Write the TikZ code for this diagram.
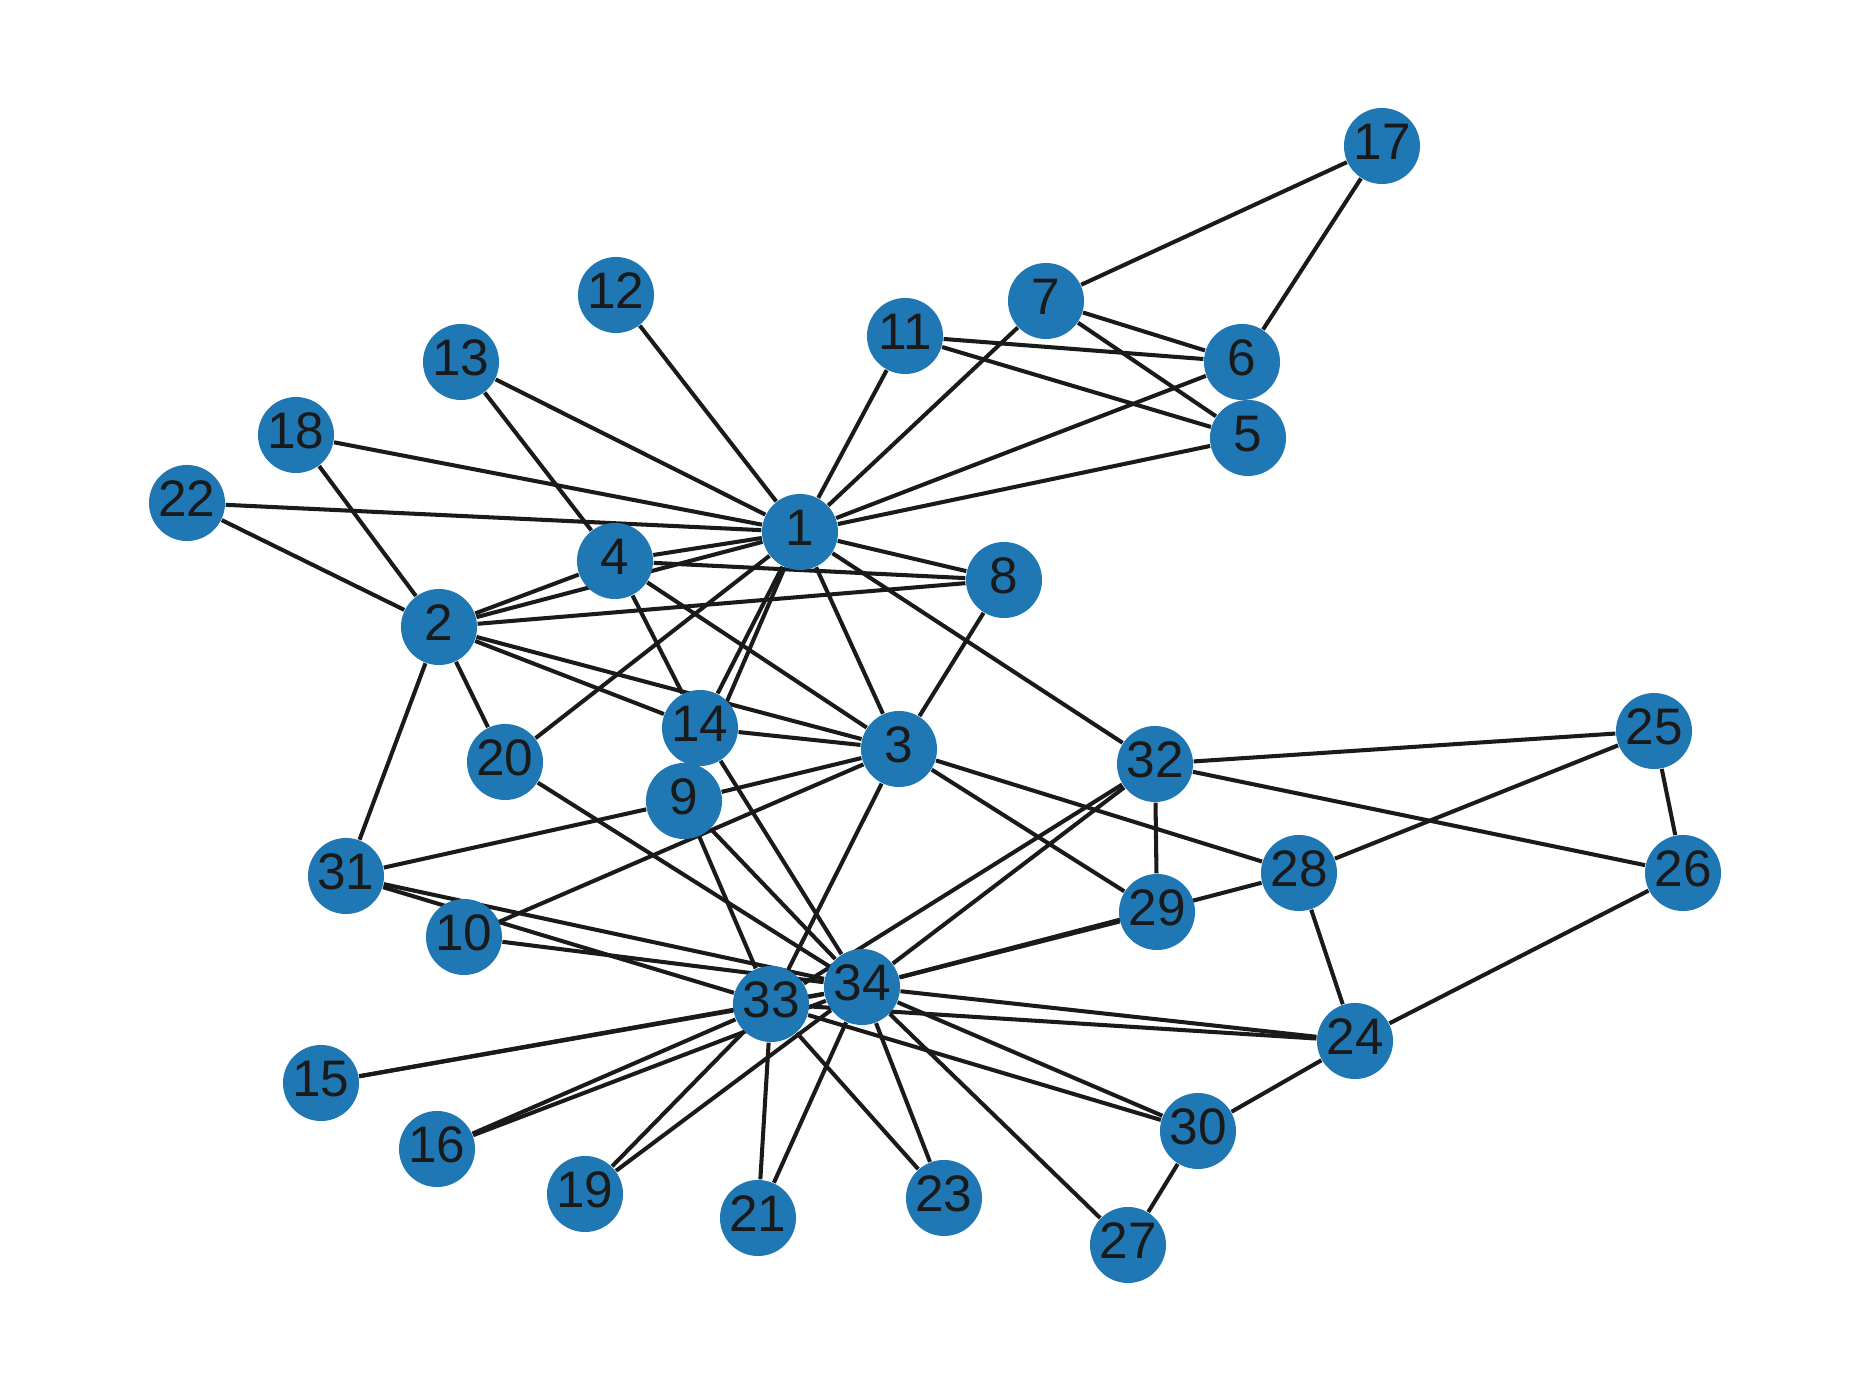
\documentclass[tikz,border=0pt]{standalone}
\usepackage{fontspec}
\setmainfont{Liberation Sans}
\usetikzlibrary{backgrounds}
\definecolor{nxblue}{HTML}{1F77B4}
\definecolor{inkgray}{HTML}{1A1A1A}

\begin{document}
\begin{tikzpicture}[
    x=0.01cm, y=-0.01cm,
    % --- club members ---
    member/.style={
        circle, fill=nxblue, inner sep=0pt, minimum size=0.76cm,
        text=inkgray, font=\fontsize{14.6}{14.6}\selectfont,
        text height=10.45pt, text depth=2.7pt},
    % --- friendships ---
    bond/.style={draw=inkgray, line width=1.15pt},
]
\useasboundingbox (0,0) rectangle (1872,1392);

% ===== MEMBERS =====
\node[member] (m1)  at (800,532)   {1};
\node[member] (m2)  at (439,627)   {2};
\node[member] (m3)  at (899,749)   {3};
\node[member] (m4)  at (615,561)   {4};
\node[member] (m5)  at (1248,438)  {5};
\node[member] (m6)  at (1242,362)  {6};
\node[member] (m7)  at (1046,301)  {7};
\node[member] (m8)  at (1004,580)  {8};
\node[member] (m9)  at (684,801)   {9};
\node[member] (m10) at (464,937)   {10};
\node[member] (m11) at (905,336)   {11};
\node[member] (m12) at (616,295)   {12};
\node[member] (m13) at (461,362)   {13};
\node[member] (m14) at (700,728)   {14};
\node[member] (m15) at (321,1083)  {15};
\node[member] (m16) at (437,1149)  {16};
\node[member] (m17) at (1382,146)  {17};
\node[member] (m18) at (296,435)   {18};
\node[member] (m19) at (585,1194)  {19};
\node[member] (m20) at (505,762)   {20};
\node[member] (m21) at (758,1218)  {21};
\node[member] (m22) at (187,503)   {22};
\node[member] (m23) at (944,1198)  {23};
\node[member] (m24) at (1355,1041) {24};
\node[member] (m25) at (1654,731)  {25};
\node[member] (m26) at (1683,873)  {26};
\node[member] (m27) at (1128,1245) {27};
\node[member] (m28) at (1299,873)  {28};
\node[member] (m29) at (1157,912)  {29};
\node[member] (m30) at (1198,1131) {30};
\node[member] (m31) at (346,876)   {31};
\node[member] (m32) at (1155,764)  {32};
\node[member] (m33) at (771,1004)  {33};
\node[member] (m34) at (862,987)   {34};

% ===== FRIENDSHIPS =====
\begin{scope}[on background layer]
\foreach \t in {2,3,4,5,6,7,8,9,11,12,13,14,18,20,22,32}{
    \draw[bond] (m1) -- (m\t);
}
\foreach \t in {3,4,8,14,18,20,22,31}{
    \draw[bond] (m2) -- (m\t);
}
\foreach \t in {4,8,9,10,14,28,29,33}{
    \draw[bond] (m3) -- (m\t);
}
\foreach \s/\t in {4/8, 4/13, 4/14, 5/7, 5/11, 6/7, 6/11, 6/17, 7/17,
                   9/31, 9/33, 24/26, 24/28, 24/30, 25/26, 25/28, 25/32,
                   26/32, 27/30, 29/32, 30/33, 31/33, 32/33}{
    \draw[bond] (m\s) -- (m\t);
}
% everyone tied to 34
\foreach \s in {9,10,14,15,16,19,20,21,23,24,27,28,29,30,31,32,33}{
    \draw[bond] (m\s) -- (m34);
}
\foreach \s in {15,16,19,21,23,24}{
    \draw[bond] (m\s) -- (m33);
}
\end{scope}
\end{tikzpicture}
\end{document}
